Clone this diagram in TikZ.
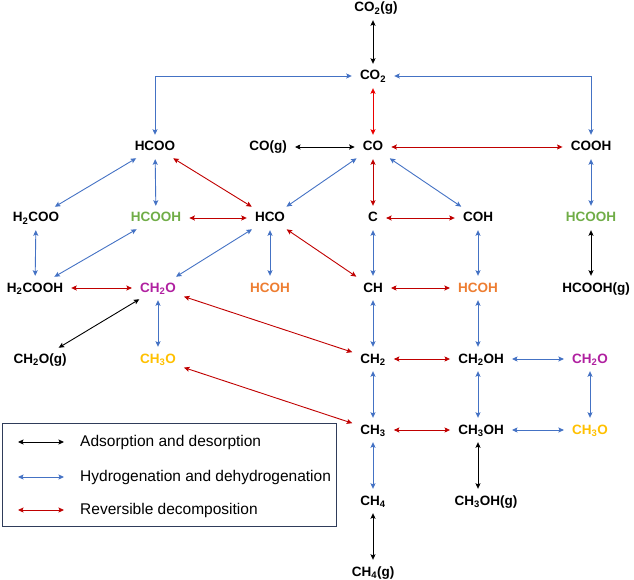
\documentclass[tikz,border=0pt]{standalone}
\usepackage{fontspec}
\setmainfont{Liberation Sans}
\usetikzlibrary{arrows.meta}
\definecolor{cblue}{RGB}{68,114,196}
\definecolor{cred}{RGB}{192,0,0}
\definecolor{cbred}{RGB}{235,0,0}
\definecolor{cgreen}{RGB}{112,173,71}
\definecolor{corange}{RGB}{237,125,49}
\definecolor{cmag}{RGB}{176,32,160}
\definecolor{cyel}{RGB}{255,192,0}
\definecolor{cnavy}{RGB}{47,60,90}
\begin{document}
\begin{tikzpicture}[x=1pt,y=-1pt,
 lab/.style={font=\bfseries\fontsize{13.5}{14}\selectfont, inner xsep=6pt, inner ysep=4pt, text height=10pt, text depth=2pt},
 tip/.style={{Stealth[length=5.5pt,width=5pt,inset=1pt]}-{Stealth[length=5.5pt,width=5pt,inset=1pt]}},
 conn/.style={line width=0.9pt, tip, shorten >=2pt, shorten <=2pt},
 ad/.style={conn,black}, hy/.style={conn,cblue}, de/.style={conn,cred},
 legtxt/.style={anchor=west, inner sep=0pt, font=\fontsize{15.5}{17}\selectfont},
 legarr/.style={line width=0.9pt, tip},
]
\useasboundingbox (0,0) rectangle (634,580);
% row 0-1
\node[lab] (CO2g) at (376,8) {CO\textsubscript{2}(g)};
\node[lab] (CO2) at (373,76) {CO\textsubscript{2}};
% row 2
\node[lab] (HCOO) at (155,147) {HCOO};
\node[lab] (COg) at (268,147) {CO(g)};
\node[lab] (CO) at (373,147) {CO};
\node[lab] (COOH) at (591,147) {COOH};
% row 3
\node[lab] (H2COO) at (36,218) {H\textsubscript{2}COO};
\node[lab,text=cgreen] (HCOOHa) at (156,218) {HCOOH};
\node[lab] (HCO) at (270,218) {HCO};
\node[lab] (C) at (373,218) {C};
\node[lab] (COH) at (478,218) {COH};
\node[lab,text=cgreen] (HCOOHb) at (591,218) {HCOOH};
% row 4
\node[lab] (H2COOH) at (35,288) {H\textsubscript{2}COOH};
\node[lab,text=cmag] (CH2Oa) at (158,288) {CH\textsubscript{2}O};
\node[lab,text=corange] (HCOHa) at (270,288) {HCOH};
\node[lab] (CH) at (373,288) {CH};
\node[lab,text=corange] (HCOHb) at (478,288) {HCOH};
\node[lab] (HCOOHg) at (596,288) {HCOOH(g)};
% row 5
\node[lab] (CH2Og) at (40,359) {CH\textsubscript{2}O(g)};
\node[lab,text=cyel] (CH3Oa) at (158,359) {CH\textsubscript{3}O};
\node[lab] (CH2) at (373,359) {CH\textsubscript{2}};
\node[lab] (CH2OH) at (481,359) {CH\textsubscript{2}OH};
\node[lab,text=cmag] (CH2Ob) at (590,359) {CH\textsubscript{2}O};
% row 6
\node[lab] (CH3) at (373,430) {CH\textsubscript{3}};
\node[lab] (CH3OH) at (481,430) {CH\textsubscript{3}OH};
\node[lab,text=cyel] (CH3Ob) at (590,430) {CH\textsubscript{3}O};
% row 7-8
\node[lab] (CH4) at (373,501) {CH\textsubscript{4}};
\node[lab] (CH3OHg) at (486,501) {CH\textsubscript{3}OH(g)};
\node[lab] (CH4g) at (373,572) {CH\textsubscript{4}(g)};

% adsorption / desorption
\draw[ad] (CO2g.south -| CO2) -- (CO2);
\draw[ad] (COg) -- (CO);
\draw[ad] (CH2Oa) -- (CH2Og);
\draw[ad] (HCOOHb) -- (HCOOHb |- HCOOHg.north);
\draw[ad] ([xshift=-3pt]CH3OH.south) -- ([xshift=-3pt]CH3OH.south |- CH3OHg.north);
\draw[ad] (CH4) -- (CH4g);

% hydrogenation
\draw[hy] (HCOO) |- (CO2);
\draw[hy] (COOH) |- (CO2);
\draw[hy] (HCOO) -- (H2COO);
\draw[hy] (HCOO) -- (HCOOHa);
\draw[hy] (H2COO) -- (H2COOH);
\draw[hy] (H2COOH) -- (HCOOHa);
\draw[hy] (HCO) -- (CH2Oa);
\draw[hy] (HCO) -- (HCOHa);
\draw[hy] (HCO) -- (CO);
\draw[hy] (CO) -- (COH);
\draw[hy] (COOH) -- (HCOOHb);
\draw[hy] (C) -- (CH);
\draw[hy] (COH) -- (HCOHb);
\draw[hy] (CH2Oa) -- (CH3Oa);
\draw[hy] (CH) -- (CH2);
\draw[hy] (HCOHb) -- (HCOHb |- CH2OH.north);
\draw[hy] (CH2OH) -- (CH2Ob);
\draw[hy] (CH2) -- (CH3);
\draw[hy] (CH2OH.south -| HCOHb) -- (HCOHb |- CH3OH.north);
\draw[hy] (CH2Ob) -- (CH3Ob);
\draw[hy] (CH3OH) -- (CH3Ob);
\draw[hy] (CH3) -- (CH4);

% decomposition
\draw[conn,cbred] (CO2) -- (CO);
\draw[de] (CO) -- (COOH);
\draw[de] (CO) -- (C);
\draw[de] (HCOO) -- (HCO);
\draw[de] (HCOOHa) -- (HCO);
\draw[de] (C) -- (COH);
\draw[de] (HCO) -- (CH);
\draw[de] (H2COOH) -- (CH2Oa);
\draw[de] (CH) -- (HCOHb);
\draw[de] (CH2Oa) -- (CH2);
\draw[de] (CH3Oa) -- (CH3);
\draw[de] (CH2) -- (CH2OH);
\draw[de] (CH3) -- (CH3OH);

% legend
\node[draw=cnavy, line width=1pt, minimum width=334pt, minimum height=103pt, anchor=north west, inner sep=0pt] (legend) at (2,423) {};
\coordinate (l1a) at (18,442); \coordinate (l1b) at (64,442);
\coordinate (l2a) at (18,477); \coordinate (l2b) at (64,477);
\coordinate (l3a) at (18,510); \coordinate (l3b) at (64,510);
\draw[legarr,black] (l1a) -- (l1b);
\draw[legarr,cblue] (l2a) -- (l2b);
\draw[legarr,cred] (l3a) -- (l3b);
\node[legtxt] (t1) at (80,442) {Adsorption and desorption};
\node[legtxt] (t2) at (80,477) {Hydrogenation and dehydrogenation};
\node[legtxt] (t3) at (80,510) {Reversible decomposition};
\end{tikzpicture}
\end{document}
